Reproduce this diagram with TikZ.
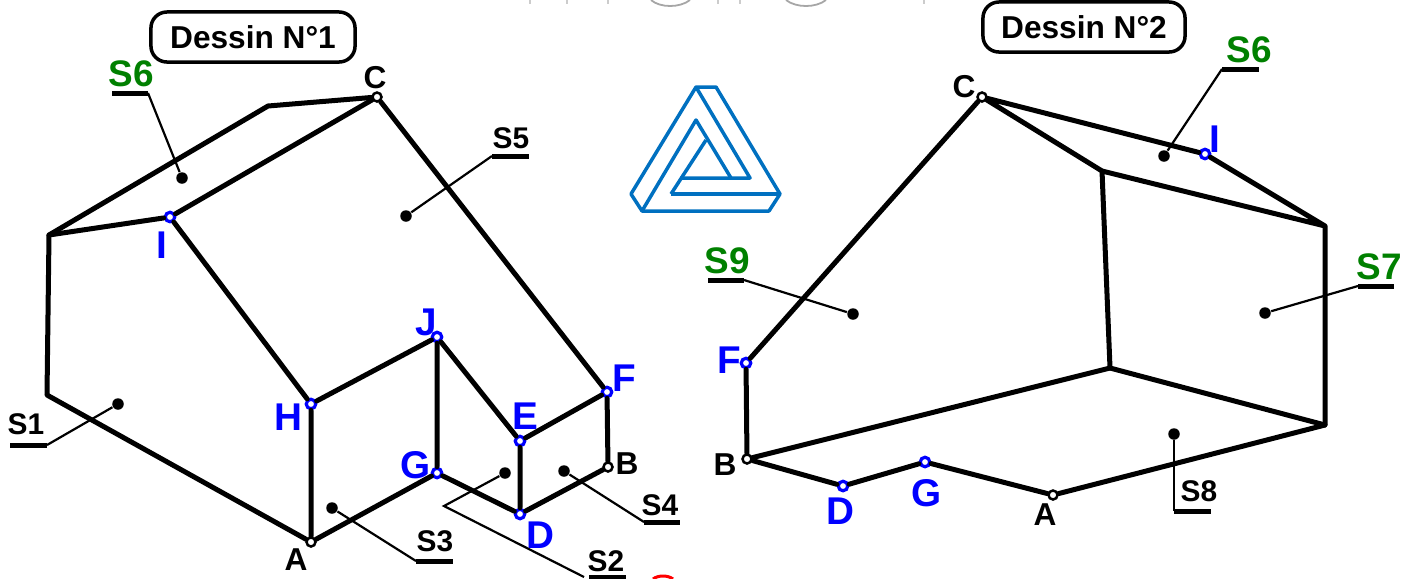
\documentclass[tikz,border=0pt]{standalone}
\usepackage{fontspec}
\setmainfont{Liberation Sans}
\definecolor{pointblue}{RGB}{0,0,255}
\definecolor{facegreen}{RGB}{0,128,0}
\definecolor{logoblue}{RGB}{0,112,192}
\tikzset{
	arete/.style={line width=0.05cm, line cap=round, line join=round},
	rappel/.style={line width=0.022cm},
	souligne/.style={line width=0.05cm},
	pt/.style={circle, draw=black, fill=white, line width=0.025cm, inner sep=0pt, minimum size=0.09cm},
	ptb/.style={circle, draw=pointblue, fill=white, line width=0.032cm, inner sep=0pt, minimum size=0.095cm},
	dot/.style={circle, fill=black, inner sep=0pt, minimum size=0.115cm},
	lettre/.style={font=\bfseries\fontsize{9}{9}\selectfont, inner sep=0pt},
	lettreb/.style={font=\bfseries\fontsize{11}{11}\selectfont, text=pointblue, inner sep=0pt},
	face/.style={font=\bfseries\fontsize{8.5}{8.5}\selectfont, inner sep=0pt},
	faceg/.style={font=\bfseries\fontsize{10.5}{10.5}\selectfont, text=facegreen, inner sep=0pt},
	titre/.style={draw, rounded corners=0.16cm, line width=0.035cm, font=\bfseries\fontsize{9}{9}\selectfont, inner sep=0pt, minimum height=0.5cm},
	logo/.style={line width=0.035cm, draw=logoblue, line join=round},
}
\begin{document}
\begin{tikzpicture}[x=0.01cm, y=-0.01cm]
	\useasboundingbox (0,0) rectangle (1416,578);
	% traces en haut et en bas
	\draw[gray!40, line width=0.012cm] (530,0) -- (530,4) (567,0) -- (567,4) (608,0) -- (608,4) (718,0) -- (718,4) (740,0) -- (740,4) (924,0) -- (924,4);
	\draw[gray!70, line width=0.018cm] (651,0) .. controls (660,8) and (680,8) .. (690,0);
	\draw[gray!70, line width=0.018cm] (786,0) .. controls (796,8) and (816,8) .. (826,0);
	\draw[red, line width=0.03cm] (653,579) .. controls (658,575) and (668,575) .. (673,579);
	% dessin 1
	\node[titre, minimum width=2.04cm] (t1) at (253,37) {Dessin N°1};
	\coordinate (a1) at (49,235);
	\coordinate (b1) at (47,395);
	\coordinate (c1) at (268,106);
	\node[pt] (A) at (311,542) {};
	\node[pt] (B) at (608,467) {};
	\node[pt] (C) at (377,97) {};
	\node[ptb] (D) at (520,514) {};
	\node[ptb] (E) at (520,441) {};
	\node[ptb] (F) at (607,392) {};
	\node[ptb] (G) at (437,473) {};
	\node[ptb] (H) at (311,404) {};
	\node[ptb] (I) at (170,217) {};
	\node[ptb] (J) at (437,337) {};
	\draw[arete] (A) -- (b1) -- (a1) -- (c1) -- (C) -- (F) -- (B) -- (D) -- (G) -- (A) -- (H) -- (J) -- (G);
	\draw[arete] (a1) -- (I) -- (C);
	\draw[arete] (I) -- (H);
	\draw[arete] (J) -- (E) -- (D);
	\draw[arete] (E) -- (F);
	\node[lettre] at (375,78) {C};
	\node[lettre] at (627,464) {B};
	\node[lettre] at (296,560) {A};
	\node[lettreb] at (540,535) {D};
	\node[lettreb] at (525,416) {E};
	\node[lettreb] at (624,378) {F};
	\node[lettreb] at (416,465) {G};
	\node[lettreb] at (288,417) {H};
	\node[lettreb] at (162,245) {I};
	\node[lettreb] at (426,322) {J};
	% reperes des faces
	\node[dot] (d1) at (118,404) {};
	\node[dot] (d2) at (505,473) {};
	\node[dot] (d3) at (332,508) {};
	\node[dot] (d4) at (564,471) {};
	\node[dot] (d5) at (406,216) {};
	\node[dot] (d6) at (182,178) {};
	\coordinate (e2) at (444,506);
	\draw[rappel] (d1) -- (47,445);
	\draw[souligne] (10,445) -- (47,445);
	\draw[rappel] (d2) -- (e2) -- (584,577);
	\draw[souligne] (589,577) -- (626,577);
	\draw[rappel] (d3) -- (416,561);
	\draw[souligne] (416,561) -- (453,561);
	\draw[rappel] (d4) -- (644,522);
	\draw[souligne] (644,522) -- (680,522);
	\draw[rappel] (d5) -- (492,156);
	\draw[souligne] (492,156) -- (529,156);
	\draw[rappel] (d6) -- (148,93);
	\draw[souligne] (112,93) -- (148,93);
	\node[face] at (26,424) {S1};
	\node[face] at (606,561) {S2};
	\node[face] at (435,541) {S3};
	\node[face] at (660,505) {S4};
	\node[face] at (511,138) {S5};
	\node[faceg] at (131,74) {S6};
	% logo
	\draw[logo] (696,87) -- (716,87) -- (780,194) -- (769,211) -- (642,211) -- (631,194) -- cycle;
	\draw[logo] (696,87) -- (750,178) -- (680,178);
	\draw[logo] (671,194) -- (780,194);
	\draw[logo] (642,211) -- (696,120) -- (731,178);
	\draw[logo] (671,194) -- (706,140);
	% dessin 2
	\node[titre, minimum width=2.02cm] (t2) at (1084,27) {Dessin N°2};
	\coordinate (m) at (1102,171);
	\coordinate (n) at (1325,226);
	\coordinate (o) at (1325,425);
	\coordinate (p) at (1110,368);
	\node[pt] (A2) at (1053,495) {};
	\node[pt] (B2) at (747,459) {};
	\node[pt] (C2) at (982,97) {};
	\node[ptb] (D2) at (843,486) {};
	\node[ptb] (F2) at (746,363) {};
	\node[ptb] (G2) at (925,462) {};
	\node[ptb] (I2) at (1205,154) {};
	\draw[arete] (C2) -- (F2) -- (B2) -- (D2) -- (G2) -- (A2) -- (o) -- (n) -- (I2) -- (C2) -- (m) -- (n);
	\draw[arete] (m) -- (p) -- (o);
	\draw[arete] (p) -- (B2);
	\node[lettre] at (964,87) {C};
	\node[lettre] at (725,465) {B};
	\node[lettre] at (1045,515) {A};
	\node[lettreb] at (840,511) {D};
	\node[lettreb] at (729,360) {F};
	\node[lettreb] at (927,493) {G};
	\node[lettreb] at (1215,139) {I};
	\node[dot] (d6b) at (1164,156) {};
	\node[dot] (d7) at (1265,313) {};
	\node[dot] (d8) at (1174,434) {};
	\node[dot] (d9) at (853,314) {};
	\draw[rappel] (d6b) -- (1222,69);
	\draw[souligne] (1222,69) -- (1259,69);
	\draw[rappel] (d7) -- (1358,286);
	\draw[souligne] (1358,286) -- (1394,286);
	\draw[rappel] (d8) -- (1174,511);
	\draw[souligne] (1174,511) -- (1211,511);
	\draw[rappel] (d9) -- (744,280);
	\draw[souligne] (708,280) -- (744,280);
	\node[faceg] at (1249,50) {S6};
	\node[faceg] at (1379,267) {S7};
	\node[face] at (1199,491) {S8};
	\node[faceg] at (727,261) {S9};
\end{tikzpicture}
\end{document}
